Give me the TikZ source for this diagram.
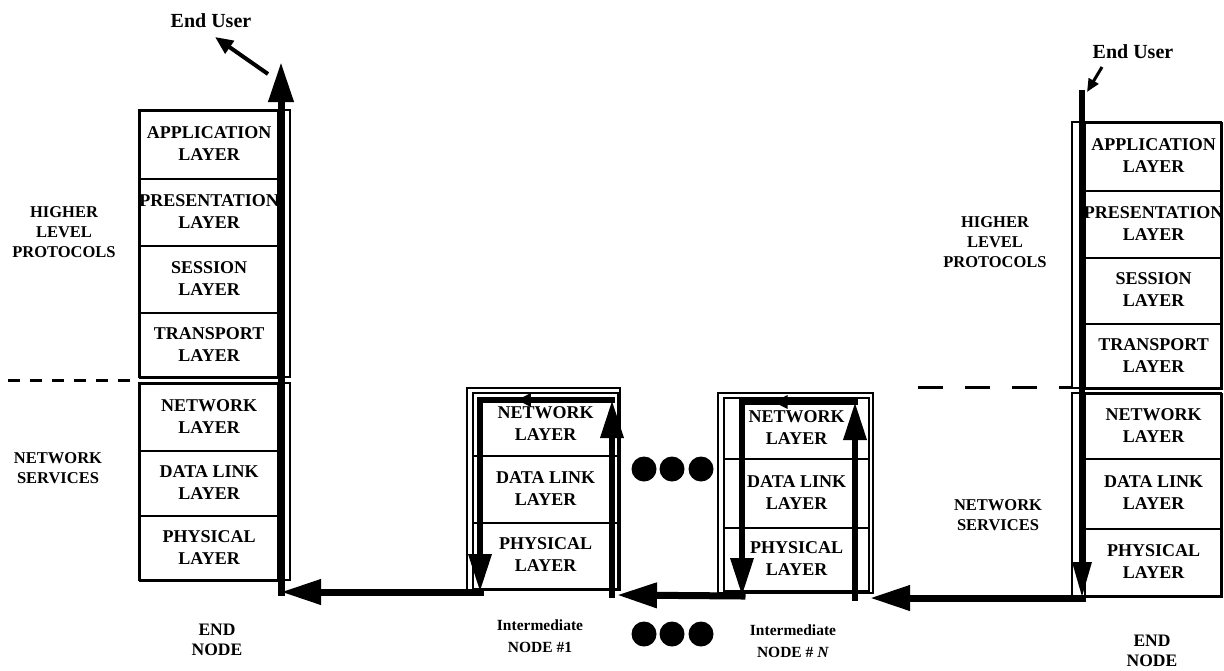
\documentclass[tikz,border=0pt]{standalone}
\usepackage{fontspec}
\setmainfont{Liberation Serif}
\usetikzlibrary{arrows.meta,decorations.markings}

% one protocol layer: name, left x, top y, width, height, text
% (the text is boxed to the layer width so a long word may overhang the box)
\newcommand{\osilayer}[6]{%
  \node[layerbox, minimum width=#4pt, minimum height=#5pt] (#1) at (#2,#3)
    {\makebox[#4pt]{\begin{tabular}{@{}c@{}}#6\end{tabular}}};}

\begin{document}
\begin{tikzpicture}[x=1pt,y=-1pt,
  frame/.style={draw, line width=2.3pt},
  layerbox/.style={draw, line width=2.3pt, anchor=north west, inner sep=0pt,
    font=\bfseries\fontsize{18}{22}\selectfont},
  sidelabel/.style={align=center, inner sep=0pt, font=\bfseries\fontsize{16.5}{20}\selectfont},
  flow/.style={line width=7pt, line cap=rect, -{Triangle[length=40pt,width=24pt]}},
  hopflow/.style={line width=6.5pt, line cap=rect, -{Triangle[length=38pt,width=22pt]}},
  bar/.style={line width=6.5pt, line cap=rect},
  midarrow/.style={postaction={decorate}, decoration={markings,
    mark=at position 0.72 with {\arrow{Triangle[length=14pt,width=13pt]}}}},
  userarrow/.style={line width=4pt, -{Triangle[length=18pt,width=15pt]}},
  divider/.style={line width=3pt},
  bigdot/.style={circle, fill=black, inner sep=0pt, minimum size=25pt},
]
\useasboundingbox (0,0) rectangle (1224,670);

% ---------- left end node ----------
\draw[frame] (139,110) rectangle (290,377);
\draw[frame] (139,383) rectangle (290,580);
\osilayer{la}{139}{110}{138}{68}{APPLICATION\\LAYER}
\osilayer{lp}{139}{178}{138}{67}{PRESENTATION\\LAYER}
\osilayer{ls}{139}{245}{138}{67}{SESSION\\LAYER}
\osilayer{lt}{139}{312}{138}{65}{TRANSPORT\\LAYER}
\osilayer{ln}{139}{383}{138}{67}{NETWORK\\LAYER}
\osilayer{ld}{139}{450}{138}{65}{DATA LINK\\LAYER}
\osilayer{lph}{139}{515}{138}{65}{PHYSICAL\\LAYER}

% ---------- intermediate node #1 ----------
\draw[frame] (467,388) rectangle (620,590);
\osilayer{an}{472}{392}{145}{63}{NETWORK\\LAYER}
\osilayer{ad}{472}{455}{145}{67}{DATA LINK\\LAYER}
\osilayer{aph}{472}{522}{145}{66}{PHYSICAL\\LAYER}

% ---------- intermediate node #N ----------
\draw[frame] (718,393) rectangle (873,593);
\osilayer{bn}{723}{397}{145}{61}{NETWORK\\LAYER}
\osilayer{bd}{723}{458}{145}{69}{DATA LINK\\LAYER}
\osilayer{bph}{723}{527}{145}{63}{PHYSICAL\\LAYER}

% ---------- right end node ----------
\draw[frame] (1072,122) rectangle (1221,388);
\draw[frame] (1072,393) rectangle (1221,596);
\osilayer{ra}{1084}{122}{137}{68}{APPLICATION\\LAYER}
\osilayer{rp}{1084}{190}{137}{67}{PRESENTATION\\LAYER}
\osilayer{rs}{1084}{257}{137}{66}{SESSION\\LAYER}
\osilayer{rt}{1084}{323}{137}{65}{TRANSPORT\\LAYER}
\osilayer{rn}{1084}{393}{137}{65}{NETWORK\\LAYER}
\osilayer{rd}{1084}{458}{137}{70}{DATA LINK\\LAYER}
\osilayer{rph}{1084}{528}{137}{68}{PHYSICAL\\LAYER}

% ---------- boundary between higher levels and network services ----------
\coordinate (dl1) at (8,380);   \coordinate (dl2) at (139,380);
\coordinate (dr1) at (918,387); \coordinate (dr2) at (1072,387);
\draw[divider, dash pattern=on 12pt off 10pt] (dl1) -- (dl2);
\draw[divider, dash pattern=on 25pt off 22pt] (dr1) -- (dr2);

% ---------- route corners ----------
\coordinate (rtop) at (1082,93);
\coordinate (rbot) at (1082,598);
\coordinate (nin)  at (870,598);
\coordinate (nrb)  at (855,598);
\coordinate (nrt)  at (855,402);
\coordinate (nlt)  at (742,402);
\coordinate (nlb)  at (742,596);
\coordinate (hin)  at (617,595);
\coordinate (hrb)  at (612,595);
\coordinate (hrt)  at (612,400);
\coordinate (hlt)  at (480,400);
\coordinate (hlb)  at (480,592);
\coordinate (lbot) at (281,592);
\coordinate (ltop) at (281,62);

% down through the sending end node
\draw[line width=6pt, line cap=rect, -{Triangle[length=36pt,width=18pt]}] (rtop) -- (rbot);
\draw[flow] (rbot) -- (nin);
% through intermediate node #N
\draw[hopflow] (nrb) -- (nrt);
\draw[bar, midarrow] (nrt) -- (nlt);
\draw[hopflow] (nlt) -- (nlb);
\draw[flow] (nlb) -- (hin);
% through intermediate node #1
\draw[hopflow] (hrb) -- (hrt);
\draw[bar, midarrow] (hrt) -- (hlt);
\draw[hopflow] (hlt) -- (hlb);
\draw[flow] (hlb) -- (lbot);
% up through the receiving end node
\draw[flow] (lbot) -- (ltop);

% ---------- end users ----------
\node[font=\bfseries\fontsize{20}{22}\selectfont, inner sep=0pt] (eul) at (211,21) {End User};
\node[font=\bfseries\fontsize{20}{22}\selectfont, inner sep=0pt] (eur) at (1133,52) {End User};
\coordinate (eula) at (268,74);  \coordinate (eulb) at (215,37);
\coordinate (eura) at (1102,67); \coordinate (eurb) at (1087,92);
\draw[userarrow] (eula) -- (eulb);
\draw[line width=3pt, -{Triangle[length=13pt,width=11pt]}] (eura) -- (eurb);

% ---------- side labels ----------
\node[sidelabel] (hl) at (64,232) {HIGHER\\LEVEL\\PROTOCOLS};
\node[sidelabel] (hr) at (995,242) {HIGHER\\LEVEL\\PROTOCOLS};
\node[sidelabel] (nsl) at (58,468) {NETWORK\\SERVICES};
\node[sidelabel] (nsr) at (998,515) {NETWORK\\SERVICES};
\node[sidelabel, font=\bfseries\fontsize{17.5}{20}\selectfont] (enl) at (217,640) {END\\NODE};
\node[sidelabel, font=\bfseries\fontsize{17.5}{20}\selectfont] (enr) at (1152,651) {END\\NODE};
\node[sidelabel, font=\bfseries\fontsize{15.5}{22}\selectfont] (i1) at (540,636) {Intermediate\\NODE \#1};
\node[sidelabel, font=\bfseries\fontsize{15.5}{22}\selectfont] (iN) at (793,641) {Intermediate\\NODE \# \textit{N}};

% ---------- ellipses for further intermediate nodes ----------
\node[bigdot] (d1) at (644,469) {};
\node[bigdot] (d2) at (672,469) {};
\node[bigdot] (d3) at (701,469) {};
\node[bigdot] (d4) at (644,634) {};
\node[bigdot] (d5) at (672,634) {};
\node[bigdot] (d6) at (701,634) {};
\end{tikzpicture}
\end{document}
